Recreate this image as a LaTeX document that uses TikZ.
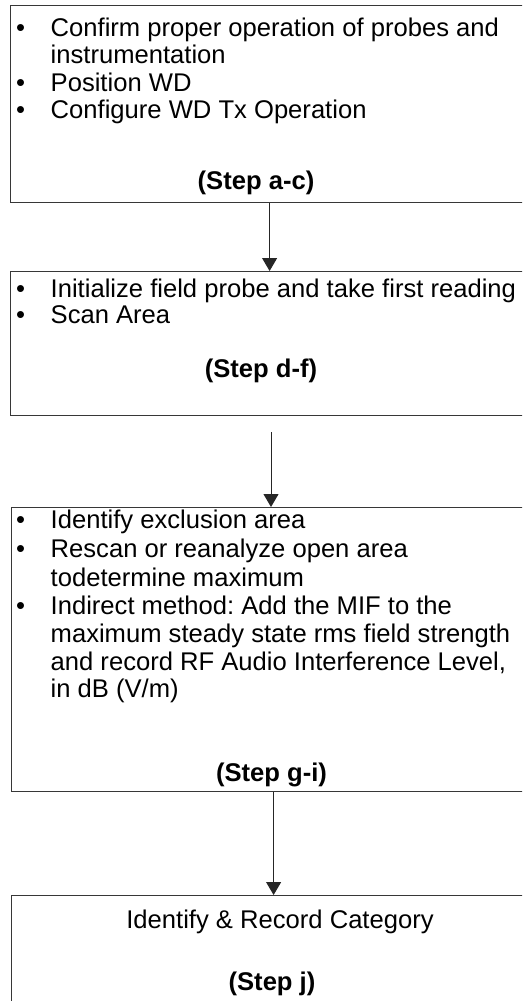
\documentclass[tikz,border=0pt]{standalone}
\usepackage{fontspec}
\setmainfont{Liberation Sans}
\usetikzlibrary{arrows.meta}
\definecolor{boxline}{RGB}{55,55,55}
\newcommand{\diagfont}{\fontsize{25.6pt}{27.5pt}\selectfont}
\frenchspacing

\begin{document}
\begin{tikzpicture}[x=1pt, y=-1pt,
    stepbox/.style={draw=boxline, line width=1.2pt, anchor=north west, inner sep=0pt, minimum height=#1},
    txt/.style={anchor=base west, inner sep=0pt, font=\diagfont},
    dot/.style={anchor=base west, inner sep=0pt, font=\diagfont},
    steplabel/.style={anchor=base, inner sep=0pt, font=\diagfont\bfseries},
    flow/.style={-{Triangle[width=15pt, length=13pt]}, line width=1pt, black!85}]
    \useasboundingbox (0,0) rectangle (522,1001);
    \clip (0,0) rectangle (522,1001);

    % === Boite 1 ===
    \node[stepbox=197pt, minimum width=518pt] (box1) at (10,5) {};
    \node[dot] (b1a) at (16,36) {•};
    \node[txt] (t1a) at (50.5,36) {Confirm proper operation of probes and};
    \node[txt] (t1b) at (50.5,63) {instrumentation};
    \node[dot] (b1b) at (16,91) {•};
    \node[txt] (t1c) at (50.5,91) {Position WD};
    \node[dot] (b1c) at (16,118) {•};
    \node[txt] (t1d) at (50.5,118) {Configure WD Tx Operation};
    \node[steplabel] (s1) at (256,189) {(Step a-c)};

    % === Boite 2 ===
    \node[stepbox=144pt, minimum width=518pt] (box2) at (10,271) {};
    \node[dot] (b2a) at (16,297) {•};
    \node[txt] (t2a) at (50.5,297) {Initialize field probe and take first reading};
    \node[dot] (b2b) at (16,323) {•};
    \node[txt] (t2b) at (50.5,323) {Scan Area};
    \node[steplabel] (s2) at (261,377) {(Step d-f)};

    % === Boite 3 ===
    \node[stepbox=284pt, minimum width=524pt] (box3) at (11,507) {};
    \node[dot] (b3a) at (16,528) {•};
    \node[txt] (t3a) at (50.5,528) {Identify exclusion area};
    \node[dot] (b3b) at (16,557) {•};
    \node[txt] (t3b) at (50.5,557) {Rescan or reanalyze open area};
    \node[txt] (t3c) at (50.5,586) {todetermine maximum};
    \node[dot] (b3c) at (16,614) {•};
    \node[txt] (t3d) at (50.5,614) {Indirect method: Add the MIF to the};
    \node[txt] (t3e) at (50.5,642) {maximum steady state rms field strength};
    \node[txt] (t3f) at (50.5,670) {and record RF Audio Interference Level,};
    \node[txt] (t3g) at (50.5,697) {in dB (V/m)};
    \node[steplabel] (s3) at (271.5,781) {(Step g-i)};

    % === Boite 4 ===
    \node[stepbox=140pt, minimum width=524pt] (box4) at (11,895) {};
    \node[anchor=base, inner sep=0pt, font=\diagfont] (t4a) at (280,928) {Identify \& Record Category};
    \node[steplabel] (s4) at (272,990) {(Step j)};

    % Fleches
    \coordinate (a2) at (271,432);
    \draw[flow] (box1.south) -- (box2.north);
    \draw[flow] (a2) -- (a2 |- box3.north);
    \draw[flow] (box3.south) -- (box4.north);
\end{tikzpicture}
\end{document}
